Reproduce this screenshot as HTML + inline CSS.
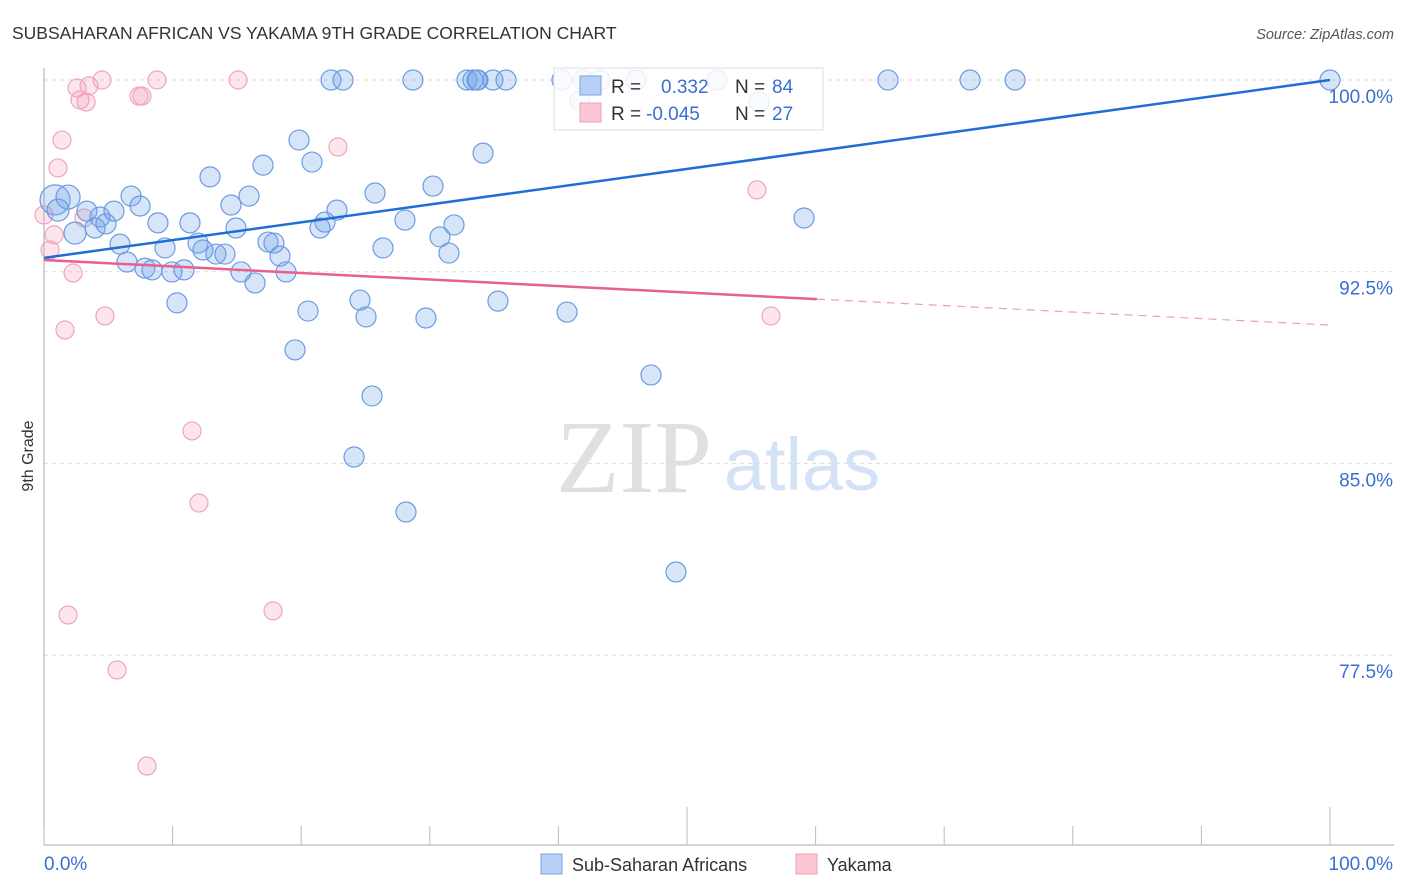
<!DOCTYPE html>
<html><head><meta charset="utf-8"><style>
body{margin:0;background:#fff;font-family:"Liberation Sans",sans-serif;}
svg{display:block}
</style></head><body>
<svg id="chart" width="1406" height="892" xmlns="http://www.w3.org/2000/svg">
<text x="12" y="39" font-size="17.5" fill="#333">SUBSAHARAN AFRICAN VS YAKAMA 9TH GRADE CORRELATION CHART</text>
<text x="1394" y="39" font-size="14.5" fill="#555" font-style="italic" text-anchor="end">Source: ZipAtlas.com</text>
<text x="33" y="456" font-size="16" fill="#333" text-anchor="middle" transform="rotate(-90 33 456)">9th Grade</text>
<g>
<text x="634" y="492" font-size="104" fill="#e0e0e0" font-family="Liberation Serif,serif" text-anchor="middle">ZIP</text>
<text x="802" y="490" font-size="74" fill="#d3e2f5" text-anchor="middle">atlas</text>
</g>
<g id="grid"></g>
<g id="axes"></g>
<g id="marks"></g>
<g id="trends"></g>
<g>
<rect x="554" y="68" width="269" height="62" fill="#fff" fill-opacity="0.85" stroke="#ddd"/>
<rect x="580" y="76" width="21" height="19" fill="#b8d0f5" stroke="#7aa3e0"/>
<rect x="580" y="103" width="21" height="19" fill="#fcc6d5" stroke="#eba0b8"/>
<text x="611" y="93" font-size="19" fill="#333">R =</text>
<text x="661" y="93" font-size="19" fill="#3a6fd0">0.332</text>
<text x="735" y="93" font-size="19" fill="#333">N =</text>
<text x="772" y="93" font-size="19" fill="#3a6fd0">84</text>
<text x="611" y="120" font-size="19" fill="#333">R =</text>
<text x="646" y="120" font-size="19" fill="#3a6fd0">-0.045</text>
<text x="735" y="120" font-size="19" fill="#333">N =</text>
<text x="772" y="120" font-size="19" fill="#3a6fd0">27</text>
</g>
<g>
<rect x="541" y="854" width="21" height="20" fill="#b8d0f5" stroke="#7aa3e0"/>
<text x="572" y="871" font-size="18" fill="#333">Sub-Saharan Africans</text>
<rect x="796" y="854" width="21" height="20" fill="#fcc6d5" stroke="#eba0b8"/>
<text x="827" y="871" font-size="18" fill="#333">Yakama</text>
</g>
</svg>
<script>
const blueX=[0.86,1.87,1.09,2.41,3.34,3.97,4.35,4.82,5.44,5.91,6.45,6.77,7.47,7.85,8.40,8.86,9.41,9.95,10.34,10.89,11.35,11.98,12.36,12.91,13.37,14.07,14.54,14.93,15.32,15.94,16.41,17.03,17.42,17.88,18.35,18.82,19.83,19.52,20.53,20.84,21.46,21.85,22.78,22.32,23.25,24.11,24.57,25.04,25.51,25.74,26.36,28.07,28.15,28.69,29.70,30.25,30.79,31.49,31.88,32.89,33.36,33.75,34.14,34.91,35.30,35.93,40.28,40.67,41.68,43.23,46.03,47.20,49.14,52.33,55.60,59.10,65.63,72.01,75.51,100,41.91,33.67];
const blueY=[95.31,95.42,94.91,94.01,94.87,94.21,94.64,94.37,94.87,93.58,92.88,95.46,95.07,92.64,92.57,94.41,93.43,92.49,91.28,92.57,94.41,93.62,93.35,96.21,93.19,93.19,95.11,94.21,92.49,95.46,92.06,96.67,93.66,93.62,93.11,92.49,97.65,89.44,90.96,96.79,94.21,94.44,94.91,100,100,85.25,91.39,90.73,87.64,95.58,93.43,94.52,83.10,100,90.69,95.85,93.86,93.23,94.33,100,100,100,97.14,100,91.35,100,100,90.92,99.18,100,100,88.46,80.75,100,99.14,94.60,100,100,100,100,100,100];
const blueR=[15,12,11,11,10,10,10,10,10,10,10,10,10,10,10,10,10,10,10,10,10,10,10,10,10,10,10,10,10,10,10,10,10,10,10,10,10,10,10,10,10,10,10,10,10,10,10,10,10,10,10,10,10,10,10,10,10,10,10,10,10,10,10,10,10,10,10,10,10,10,10,10,10,10,10,10,10,10,10,10,10,10];
const pinkX=[0,0.47,0.78,2.26,1.63,1.87,1.40,1.09,2.57,2.80,3.27,3.50,4.51,4.74,5.68,7.39,7.62,8.01,8.79,11.51,12.05,15.09,17.81,22.86,55.44,56.53,3.11];
const pinkY=[94.72,93.35,93.94,92.45,90.22,79.07,97.65,96.56,99.69,99.22,99.14,99.77,100,90.77,76.92,99.37,99.37,73.16,100,86.27,83.45,100,79.23,97.38,95.70,90.77,94.60];
const blueTrend=[93.04,100];
const pinkTrend=[92.96,90.41];
const pinkSolidEnd=60.1;
const yTicks=[100,92.5,85,77.5];
const yTickLabels=["100.0%","92.5%","85.0%","77.5%"];
const xTicks=[0,10,20,30,40,50,60,70,80,90,100];
const X=v=>44+v*12.86;
const Y=v=>80+(100-v)*25.56;
const NS="http://www.w3.org/2000/svg";
function mk(tag,attrs,parent){const e=document.createElementNS(NS,tag);for(const k in attrs)e.setAttribute(k,attrs[k]);parent.appendChild(e);return e;}
const grid=document.getElementById('grid'),axes=document.getElementById('axes'),marks=document.getElementById('marks'),trends=document.getElementById('trends');
yTicks.forEach((t,i)=>{
 const l=mk('line',{x1:44,x2:1393,y1:Y(t),y2:Y(t),stroke:'#dcdcdc','stroke-dasharray':'4,4'},grid);
 
 
 const tx=mk('text',{x:1393,y:Y(t)+23,'font-size':19,fill:'#3a6fd0','text-anchor':'end'},grid);
 tx.textContent=yTickLabels[i];
 
 
});
const ya=mk('line',{x1:44,x2:44,y1:68,y2:845,stroke:'#aaa'},axes);


const xa=mk('line',{x1:44,x2:1394,y1:845,y2:845,stroke:'#aaa'},axes);


xTicks.forEach(t=>{
 const tall=(t===50||t===100);
 const l=mk('line',{x1:X(t),x2:X(t),y1:tall?807:826,y2:845,stroke:'#bbb'},axes);
 
 
});
const x0=mk('text',{x:44,y:870,'font-size':19,fill:'#3a6fd0'},axes);x0.textContent='0.0%';


const x1=mk('text',{x:1393,y:870,'font-size':19,fill:'#3a6fd0','text-anchor':'end'},axes);x1.textContent='100.0%';


pinkX.forEach((v,i)=>{
 const c=mk('circle',{cx:X(v),cy:Y(pinkY[i]),r:9,fill:'rgba(245,150,180,0.25)',stroke:'#efa5bd','stroke-width':1.2},marks);
 
 
});
blueX.forEach((v,i)=>{
 const c=mk('circle',{cx:X(v),cy:Y(blueY[i]),r:blueR[i]||10,fill:'rgba(110,160,235,0.28)',stroke:'#6b9be2','stroke-width':1.2},marks);
 
 
});
const bt=mk('line',{x1:X(0),y1:Y(blueTrend[0]),x2:X(100),y2:Y(blueTrend[1]),stroke:'#1f6ed6','stroke-width':2.5},trends);


const py=x=>pinkTrend[0]+(pinkTrend[1]-pinkTrend[0])*x/100;
const pt=mk('line',{x1:X(0),y1:Y(py(0)),x2:X(pinkSolidEnd),y2:Y(py(pinkSolidEnd)),stroke:'#e8608e','stroke-width':2.5},trends);


const pd=mk('line',{x1:X(pinkSolidEnd),y1:Y(py(pinkSolidEnd)),x2:X(100),y2:Y(py(100)),stroke:'#e8a0b8','stroke-width':1.2,'stroke-dasharray':'8,6'},trends);


</script>
</body></html>
